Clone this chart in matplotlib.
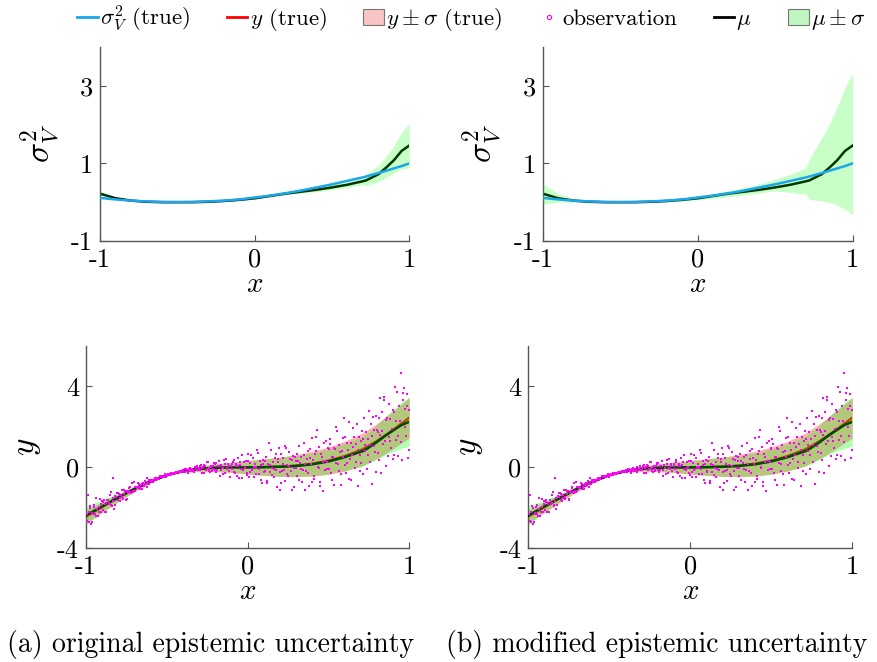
import matplotlib
matplotlib.use("Agg")
import matplotlib.pyplot as plt
from matplotlib.lines import Line2D
from matplotlib.patches import Patch
import numpy as np

plt.rcParams["font.family"] = "cmr10"
plt.rcParams["mathtext.fontset"] = "cm"
plt.rcParams["axes.unicode_minus"] = False
plt.rcParams["axes.formatter.use_mathtext"] = True

# common x grid for the curves
x_grid = [-1.0, -0.9, -0.8, -0.7, -0.6, -0.5, -0.4, -0.3, -0.2, -0.1, 0.0,
          0.1, 0.2, 0.3, 0.4, 0.5, 0.6, 0.7, 0.72, 0.8, 0.85, 0.9, 0.95, 1.0]

# aleatoric variance: ground truth and predicted mean
var_true = [0.11, 0.07, 0.04, 0.02, 0.005, 0.0, 0.005, 0.02, 0.04, 0.07, 0.12,
            0.17, 0.23, 0.30, 0.38, 0.46, 0.55, 0.64, 0.66, 0.75, 0.81, 0.87, 0.93, 1.0]
var_mean = [0.22, 0.10, 0.04, 0.01, 0.0, 0.0, 0.0, 0.01, 0.03, 0.06, 0.10,
            0.16, 0.22, 0.27, 0.32, 0.38, 0.45, 0.54, 0.56, 0.72, 0.89, 1.08, 1.32, 1.46]

# epistemic band of the variance, original model
var_lo_orig = [0.17, 0.08, 0.03, 0.0, -0.01, -0.01, -0.01, 0.0, 0.02, 0.05, 0.08,
               0.14, 0.19, 0.23, 0.27, 0.32, 0.38, 0.46, 0.42, 0.53, 0.63, 0.75, 0.86, 0.88]
var_hi_orig = [0.27, 0.12, 0.05, 0.02, 0.01, 0.01, 0.01, 0.02, 0.04, 0.07, 0.12,
               0.18, 0.25, 0.31, 0.37, 0.44, 0.52, 0.62, 0.72, 0.95, 1.18, 1.45, 1.80, 2.03]

# epistemic band of the variance, modified model
var_lo_mod = [-0.05, 0.0, 0.0, -0.01, -0.01, -0.01, -0.01, 0.0, 0.01, 0.03, 0.06,
              0.10, 0.14, 0.19, 0.24, 0.29, 0.25, 0.20, 0.07, 0.03, 0.0, -0.08, -0.18, -0.33]
var_hi_mod = [0.47, 0.22, 0.09, 0.03, 0.01, 0.01, 0.01, 0.02, 0.05, 0.09, 0.14,
              0.22, 0.30, 0.38, 0.47, 0.59, 0.72, 0.89, 1.10, 1.65, 2.00, 2.45, 2.95, 3.32]

# regression target and predicted mean
y_true = [-2.43, -1.96, -1.50, -1.07, -0.69, -0.38, -0.18, -0.07, -0.02, 0.0, 0.0,
          0.01, 0.03, 0.08, 0.18, 0.33, 0.55, 0.85, 0.93, 1.30, 1.57, 1.85, 2.15, 2.45]
y_mean = [-2.38, -1.93, -1.49, -1.07, -0.70, -0.39, -0.18, -0.07, -0.02, 0.0, 0.0,
          0.01, 0.03, 0.07, 0.15, 0.29, 0.50, 0.77, 0.82, 1.25, 1.55, 1.82, 2.08, 2.25]

# noisy observations (two sampling passes)
obs_x_a = [
    -0.996, -0.988, -0.981, -0.972, -0.965, -0.957, -0.948, -0.940, -0.931, -0.922, -0.914, -0.905,
    -0.897, -0.889, -0.880, -0.873, -0.864, -0.856, -0.847, -0.839, -0.830, -0.822, -0.813, -0.804, -0.833,
    -0.796, -0.788, -0.779, -0.771, -0.763, -0.754, -0.746, -0.737, -0.729, -0.720, -0.712, -0.703,
    -0.697, -0.688, -0.680, -0.671, -0.663, -0.655, -0.646, -0.638, -0.629, -0.621, -0.612, -0.604,
    -0.596, -0.587, -0.579, -0.570, -0.562, -0.554, -0.545, -0.537, -0.528, -0.520, -0.511, -0.503,
    -0.495, -0.487, -0.478, -0.470, -0.461, -0.453, -0.444, -0.436, -0.428, -0.419, -0.411, -0.402,
    -0.398, -0.389, -0.381, -0.372, -0.364, -0.355, -0.347, -0.338, -0.330, -0.321, -0.313, -0.304,
    -0.296, -0.288, -0.279, -0.271, -0.262, -0.254, -0.245, -0.237, -0.228, -0.220, -0.211, -0.203,
    -0.197, -0.188, -0.180, -0.171, -0.163, -0.154, -0.146, -0.137, -0.129, -0.120, -0.112, -0.103,
    -0.095, -0.087, -0.078, -0.070, -0.061, -0.053, -0.044, -0.036, -0.027, -0.019, -0.010, -0.002,
    0.004, 0.013, 0.021, 0.030, 0.038, 0.047, 0.055, 0.064, 0.072, 0.081, 0.089, 0.098,
    0.106, 0.115, 0.123, 0.132, 0.140, 0.149, 0.157, 0.166, 0.174, 0.183, 0.191, 0.199,
    0.204, 0.212, 0.221, 0.229, 0.238, 0.246, 0.255, 0.263, 0.272, 0.280, 0.289, 0.297,
    0.303, 0.312, 0.320, 0.329, 0.337, 0.346, 0.354, 0.363, 0.371, 0.380, 0.388, 0.397,
    0.405, 0.413, 0.422, 0.430, 0.439, 0.447, 0.456, 0.464, 0.473, 0.481, 0.490, 0.498,
    0.503, 0.512, 0.520, 0.529, 0.537, 0.546, 0.554, 0.563, 0.571, 0.580, 0.588, 0.597,
    0.604, 0.613, 0.621, 0.630, 0.638, 0.647, 0.655, 0.664, 0.672, 0.681, 0.689, 0.698,
    0.704, 0.712, 0.721, 0.729, 0.738, 0.746, 0.755, 0.763, 0.772, 0.780, 0.789, 0.797, 0.820,
    0.804, 0.812, 0.821, 0.829, 0.838, 0.846, 0.855, 0.863, 0.872, 0.880, 0.889, 0.897,
    0.904, 0.912, 0.921, 0.929, 0.938, 0.946, 0.955, 0.963, 0.972, 0.980, 0.989, 0.997,
]
obs_y_a = [
    -2.29, -1.35, -2.70, -2.03, -2.69, -2.32, -1.86, -2.39, -2.05, -2.22, -1.58, -1.81,
    -2.09, -1.61, -1.82, -2.23, -1.62, -1.78, -1.21, -1.89, -1.52, -1.88, -1.49, -1.29, -0.52,
    -1.33, -1.52, -1.10, -1.57, -1.32, -1.18, -1.54, -1.16, -0.99, -1.28, -1.15, -0.74,
    -1.16, -0.96, -0.99, -0.81, -0.98, -1.08, -0.77, -0.81, -0.83, -0.52, -0.82, -0.67,
    -0.64, -0.72, -0.61, -0.54, -0.58, -0.60, -0.42, -0.49, -0.50, -0.41, -0.34, -0.47,
    -0.36, -0.37, -0.32, -0.30, -0.31, -0.26, -0.27, -0.23, -0.24, -0.20, -0.21, -0.17,
    -0.14, -0.25, -0.09, -0.17, -0.13, -0.02, -0.18, -0.11, -0.21, -0.04, 0.06, -0.11,
    -0.13, 0.12, -0.05, -0.29, 0.06, -0.08, 0.25, -0.17, 0.03, -0.18, 0.06, 0.19,
    0.21, -0.13, 0.05, -0.45, 0.13, -0.03, 0.35, -0.27, -0.01, 0.17, -0.17, 0.09,
    -0.08, 0.38, -0.27, 0.16, 0.05, -0.51, 0.24, 0.62, -0.14, -0.03, 0.32, -0.38,
    0.29, -0.24, 0.59, -0.06, -0.46, 0.15, 0.01, 0.73, -0.35, 0.12, -0.75, 0.37,
    -0.20, 0.49, -0.67, 1.18, 0.11, -0.37, 0.28, -0.07, 0.67, -0.97, 0.41, -0.24,
    0.68, -0.16, 0.19, -0.66, 0.95, -0.35, 0.06, 0.41, -1.13, 0.57, -0.02, 0.33,
    -0.43, 0.32, 1.07, -0.06, -0.74, 0.59, 0.19, -0.20, 0.83, -0.92, 0.46, 1.43,
    0.38, -0.57, 0.79, 1.83, -0.02, -0.90, 0.64, 0.28, 1.19, -0.15, 0.26, 0.97,
    -0.08, 1.13, -0.61, 0.53, 0.97, 0.22, 1.78, -0.16, 0.77, -0.89, 0.52, 2.43,
    1.48, 0.20, 0.84, -0.59, 1.20, 0.61, 1.95, -0.03, 1.16, -0.90, 1.51, 0.61,
    0.21, 1.40, 2.43, 0.81, -0.06, 1.39, 1.10, 2.13, -0.82, 1.87, 0.75, 2.54, 3.45,
    1.77, 0.38, 1.60, 2.72, 1.15, 3.35, 0.07, 2.46, 1.52, 2.37, 0.98, 2.82,
    0.61, 3.96, 2.27, 1.53, 3.05, 4.65, 0.34, 3.69, 2.86, 1.55, 3.64, 0.88,
]
obs_x_b = [
    -0.992, -0.984, -0.977, -0.968, -0.961, -0.953, -0.944, -0.936, -0.927, -0.918, -0.910, -0.901,
    -0.893, -0.885, -0.876, -0.869, -0.860, -0.852, -0.843, -0.835, -0.826, -0.818, -0.809, -0.800,
    -0.792, -0.784, -0.775, -0.767, -0.759, -0.750, -0.742, -0.733, -0.725, -0.716, -0.708, -0.699,
    -0.693, -0.684, -0.676, -0.667, -0.659, -0.651, -0.642, -0.634, -0.625, -0.617, -0.608, -0.600,
    -0.592, -0.583, -0.575, -0.566, -0.558, -0.550, -0.541, -0.533, -0.524, -0.516, -0.507, -0.499,
    -0.491, -0.483, -0.474, -0.466, -0.457, -0.449, -0.440, -0.432, -0.424, -0.415, -0.407, -0.399,
    -0.394, -0.385, -0.377, -0.368, -0.360, -0.351, -0.343, -0.334, -0.326, -0.317, -0.309, -0.300,
    -0.292, -0.284, -0.275, -0.267, -0.258, -0.250, -0.241, -0.233, -0.224, -0.216, -0.207, -0.199,
    -0.193, -0.184, -0.176, -0.167, -0.159, -0.150, -0.142, -0.133, -0.125, -0.116, -0.108, -0.099,
    -0.091, -0.083, -0.074, -0.066, -0.057, -0.049, -0.040, -0.032, -0.023, -0.015, -0.006, 0.002,
    0.008, 0.017, 0.025, 0.034, 0.042, 0.051, 0.059, 0.068, 0.076, 0.085, 0.093, 0.102,
    0.110, 0.119, 0.127, 0.136, 0.144, 0.153, 0.161, 0.170, 0.178, 0.187, 0.195, 0.201,
    0.208, 0.216, 0.225, 0.233, 0.242, 0.250, 0.259, 0.267, 0.276, 0.284, 0.293, 0.300,
    0.307, 0.316, 0.324, 0.333, 0.341, 0.350, 0.358, 0.367, 0.375, 0.384, 0.392, 0.401,
    0.409, 0.417, 0.426, 0.434, 0.443, 0.451, 0.460, 0.468, 0.477, 0.485, 0.494, 0.501,
    0.507, 0.516, 0.524, 0.533, 0.541, 0.550, 0.558, 0.567, 0.575, 0.584, 0.592, 0.601,
    0.608, 0.617, 0.625, 0.634, 0.642, 0.651, 0.659, 0.668, 0.676, 0.685, 0.693, 0.701,
    0.708, 0.716, 0.725, 0.733, 0.742, 0.750, 0.759, 0.767, 0.776, 0.784, 0.793, 0.801,
    0.808, 0.816, 0.825, 0.833, 0.842, 0.850, 0.859, 0.867, 0.876, 0.884, 0.893, 0.901,
    0.908, 0.916, 0.925, 0.933, 0.942, 0.950, 0.959, 0.967, 0.976, 0.984, 0.993, 0.999,
]
obs_y_b = [
    -2.66, -2.20, -1.93, -2.82, -2.25, -1.97, -2.29, -1.53, -2.42, -1.96, -2.19, -1.67,
    -1.70, -2.21, -1.76, -1.61, -1.83, -1.35, -1.86, -1.64, -2.08, -1.44, -1.26, -1.62,
    -1.66, -1.38, -1.48, -1.12, -1.18, -1.60, -1.25, -1.02, -1.22, -0.77, -1.24, -0.97,
    -0.96, -1.04, -0.78, -1.06, -0.89, -0.82, -0.91, -0.68, -0.99, -0.75, -0.62, -0.72,
    -0.70, -0.61, -0.64, -0.56, -0.53, -0.57, -0.49, -0.45, -0.48, -0.44, -0.38, -0.36,
    -0.34, -0.36, -0.30, -0.32, -0.28, -0.29, -0.24, -0.25, -0.21, -0.22, -0.18, -0.19,
    -0.23, -0.09, -0.14, -0.26, -0.08, -0.14, -0.08, -0.18, 0.02, -0.09, -0.11, -0.01,
    0.07, -0.27, 0.00, 0.10, -0.13, 0.27, -0.05, -0.21, 0.07, -0.07, 0.20, -0.15,
    -0.23, 0.07, 0.29, -0.15, -0.01, -0.33, 0.15, 0.39, -0.09, 0.05, -0.47, 0.19,
    0.27, -0.22, 0.05, -0.41, 0.46, 0.14, -0.08, -0.54, 0.24, 0.00, -0.30, 0.65,
    -0.50, 0.22, -0.14, 0.47, 0.04, -0.32, 0.87, -0.07, 0.33, -0.61, 0.15, -0.21,
    0.32, -0.75, 0.15, -0.24, 0.84, -0.02, -0.50, 0.45, -0.15, 0.24, 0.97, -1.10,
    -0.77, 0.44, -0.11, 1.04, 0.10, -0.45, 0.76, -0.19, 0.37, -0.98, 0.53, -0.02,
    0.65, -0.65, 0.21, 0.51, -0.11, 1.21, -1.12, 0.43, -0.30, 0.90, 0.17, -0.73,
    -0.45, 0.65, 1.49, 0.04, 1.01, -0.71, 0.52, -1.19, 0.29, 1.32, -0.06, 0.91,
    1.39, -0.27, 0.51, -0.87, 0.90, 1.97, 0.17, 1.10, -0.35, 0.79, 1.43, 0.12,
    -0.29, 1.21, 2.23, 0.41, -0.65, 0.99, 1.49, 0.28, 2.16, 0.87, -0.18, 1.30,
    1.78, -0.35, 1.11, 1.73, 0.61, 2.80, 0.27, 1.55, 2.50, 1.04, -0.24, 1.87,
    0.69, 2.45, -0.29, 1.82, 3.49, 1.28, 2.32, 0.57, 3.14, 1.29, 1.88, 0.39,
    2.74, 1.34, 3.73, 0.56, 2.27, 1.26, 3.34, 3.90, 1.99, 3.01, 0.44, 2.82,
]

panel_captions = ["(a) original epistemic uncertainty", "(b) modified epistemic uncertainty"]

C_CYAN = "#1aa7ec"
C_RED = "#ff0000"
C_GREEN = "#00ff00"
C_MAG = "#ff00ff"
C_SPINE = "#555555"

fig = plt.figure(figsize=(8.78, 6.62), dpi=100)

top_axes = [fig.add_axes([0.1139, 0.6360, 0.3523, 0.2931]),
            fig.add_axes([0.6181, 0.6360, 0.3531, 0.2931])]
bot_axes = [fig.add_axes([0.0979, 0.1718, 0.3682, 0.3056]),
            fig.add_axes([0.6017, 0.1718, 0.3690, 0.3056])]


def style(ax, yticks, ylim):
    for s in ("top", "right"):
        ax.spines[s].set_visible(False)
    for s in ("left", "bottom"):
        ax.spines[s].set_color(C_SPINE)
        ax.spines[s].set_linewidth(1.0)
    ax.set_xlim(-1, 1)
    ax.set_ylim(*ylim)
    ax.set_xticks([-1, 0, 1])
    ax.set_xticklabels(["-1", "0", "1"])
    ax.set_yticks(yticks)
    ax.set_yticklabels([str(v) for v in yticks])
    ax.tick_params(direction="in", length=4, width=0.8, color=C_SPINE,
                   labelsize=19, pad=5)
    ax.set_xlabel(r"$x$", fontsize=21, labelpad=0)


xg = np.array(x_grid)
bands = [(var_lo_orig, var_hi_orig), (var_lo_mod, var_hi_mod)]
for ax, (lo, hi) in zip(top_axes, bands):
    ax.plot(xg, var_mean, color="black", lw=1.8, zorder=2)
    ax.fill_between(xg, lo, hi, color=C_GREEN, alpha=0.22, lw=0, zorder=3)
    ax.plot(xg, var_true, color=C_CYAN, lw=1.8, zorder=4)
    style(ax, [-1, 1, 3], (-1, 4))
    ax.set_ylabel(r"$\sigma_V^2$", fontsize=24, labelpad=6)

sd_true = np.sqrt(np.clip(var_true, 0, None))
sd_mean = np.sqrt(np.clip(var_mean, 0, None))
yt = np.array(y_true)
ym = np.array(y_mean)
obs_x = obs_x_a + obs_x_b
obs_y = obs_y_a + obs_y_b
for ax in bot_axes:
    ax.fill_between(xg, yt - sd_true, yt + sd_true, color=C_RED, alpha=0.3, lw=0, zorder=1)
    ax.plot(xg, yt, color=C_RED, lw=1.8, zorder=2)
    ax.plot(xg, ym, color="black", lw=1.8, zorder=3)
    ax.fill_between(xg, ym - sd_mean, ym + sd_mean, color=C_GREEN, alpha=0.3, lw=0, zorder=4)
    ax.scatter(obs_x, obs_y, s=2.2, marker="s", color=C_MAG, linewidths=0, zorder=5)
    style(ax, [-4, 0, 4], (-4, 6))
    ax.set_ylabel(r"$y$", fontsize=24, labelpad=10)

handles = [
    Line2D([], [], color=C_CYAN, lw=2),
    Line2D([], [], color=C_RED, lw=2),
    Patch(facecolor="#f8c4c4", edgecolor="#777777", lw=0.8),
    Line2D([], [], ls="none", marker="o", ms=3, mfc="none", mec=C_MAG, mew=0.8),
    Line2D([], [], color="black", lw=2),
    Patch(facecolor="#bff5bf", edgecolor="#777777", lw=0.8),
]
labels = [r"$\sigma_V^2$ (true)", r"$y$ (true)", r"$y\pm\sigma$ (true)",
          "observation", r"$\mu$", r"$\mu\pm\sigma$"]
fig.legend(handles, labels, loc="upper center", bbox_to_anchor=(0.537, 1.026),
           ncol=6, frameon=False, fontsize=16.5, handlelength=0.9,
           handletextpad=0.1, columnspacing=1.6)

fig.text(0.240, 0.026, panel_captions[0], ha="center", va="center", fontsize=20)
fig.text(0.748, 0.026, panel_captions[1], ha="center", va="center", fontsize=20)

fig.savefig("out.png", dpi=100)
